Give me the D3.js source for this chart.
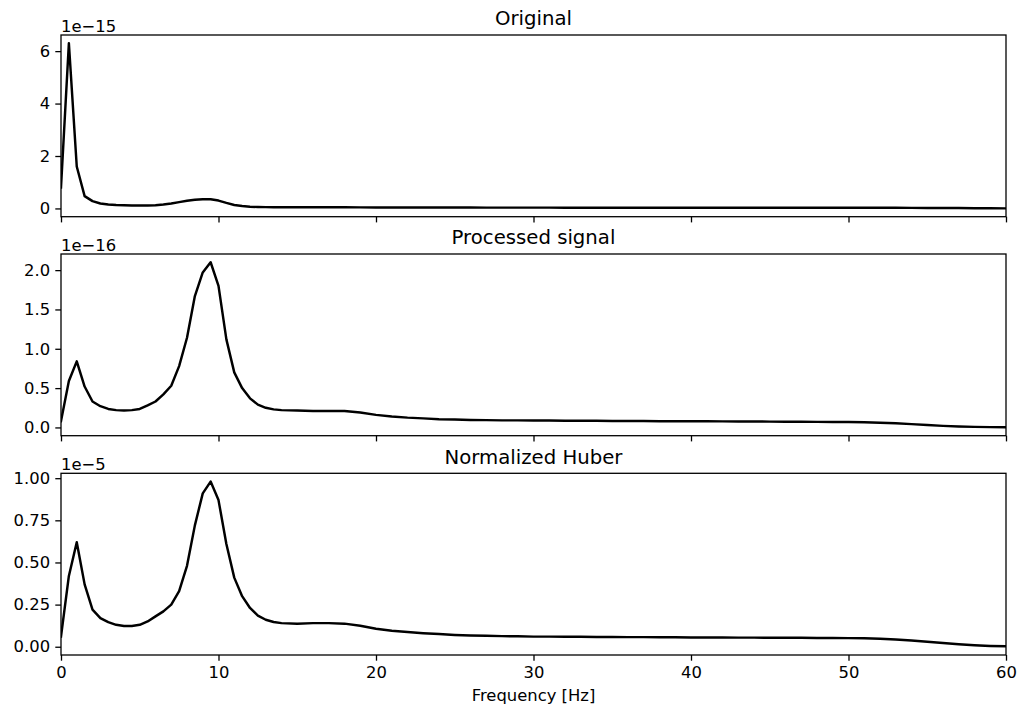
<!DOCTYPE html>
<html><head><meta charset="utf-8">
<script src="https://cdn.jsdelivr.net/npm/d3@7"></script>
<style>body{margin:0;background:#fff}svg{display:block}text{font-family:"DejaVu Sans",sans-serif;fill:#000}</style>
</head><body>
<svg id="c" width="1021" height="711"></svg>
<script>
const freqs = [0,0.5,1,1.5,2,2.5,3,3.5,4,4.5,5,5.5,6,6.5,7,7.5,8,8.5,9,9.5,10,10.5,11,11.5,12,12.5,13,13.5,14,
  15,16,17,18,19,20,21,22,23,24,25,26,27,28,29,30,31,32,33,34,35,36,37,38,39,40,41,42,43,44,45,46,47,48,49,50,51,52,53,54,55,56,57,58,59,60];
const titles = ["Original","Processed signal","Normalized Huber"];
const offsetLabels = ["1e\u221215","1e\u221216","1e\u22125"];
const originalVals = [0.8,6.3,1.6,0.47,0.28,0.19,0.15,0.13,0.12,0.11,0.11,0.11,0.12,0.15,0.19,0.24,0.29,0.33,0.35,0.35,0.30,0.21,0.13,0.09,0.065,0.055,0.05,0.047,0.045,
  0.043,0.042,0.042,0.042,0.04,0.038,0.036,0.035,0.034,0.033,0.032,0.032,0.031,0.031,0.031,0.031,0.031,0.030,0.030,0.030,0.030,0.030,0.030,0.030,0.030,0.029,0.029,0.029,0.029,0.029,0.029,0.029,0.028,0.028,0.028,0.028,0.027,0.026,0.024,0.022,0.02,0.017,0.013,0.008,0.004,0.002];
const processedVals = [0.08,0.59,0.84,0.52,0.33,0.27,0.235,0.22,0.215,0.22,0.235,0.28,0.33,0.42,0.53,0.78,1.14,1.67,1.97,2.10,1.80,1.12,0.70,0.50,0.37,0.29,0.25,0.23,0.22,
  0.215,0.21,0.21,0.21,0.19,0.16,0.14,0.125,0.115,0.105,0.10,0.095,0.093,0.09,0.09,0.088,0.087,0.086,0.085,0.084,0.083,0.082,0.081,0.080,0.080,0.079,0.078,0.077,0.076,0.075,0.074,0.073,0.072,0.071,0.070,0.069,0.066,0.06,0.052,0.042,0.03,0.02,0.012,0.007,0.004,0.003];
const huberVals = [0.06,0.42,0.62,0.37,0.22,0.17,0.146,0.13,0.123,0.123,0.13,0.15,0.18,0.21,0.25,0.33,0.48,0.72,0.91,0.98,0.87,0.61,0.41,0.30,0.23,0.185,0.16,0.147,0.14,
  0.137,0.14,0.14,0.137,0.125,0.107,0.095,0.087,0.08,0.075,0.07,0.067,0.065,0.063,0.062,0.06,0.06,0.059,0.059,0.058,0.058,0.057,0.057,0.056,0.056,0.055,0.055,0.055,0.054,0.054,0.053,0.053,0.053,0.052,0.052,0.051,0.05,0.048,0.043,0.037,0.03,0.022,0.015,0.009,0.005,0.003];
const yTicks = [[0,2,4,6],[0,0.5,1.0,1.5,2.0],[0,0.25,0.5,0.75,1.0]];
const yTickFmt = [d3.format("d"), d3.format(".1f"), d3.format(".2f")];
const xTicks = [0,10,20,30,40,50,60];
const series = [originalVals, processedVals, huberVals];

const svg = d3.select("#c");
const left = 61, right = 1006;
const tops = [35, 254, 473.3], h = 181.7;
const x = d3.scaleLinear().domain([0,60]).range([left,right]);
const tickFont = "16.4px", titleFont = "19.7px", tickLen = 5.7, tickPad = 5.2;

series.forEach((vals, i) => {
  const top = tops[i], bottom = top + h;
  const mx = d3.max(vals), mn = Math.min(0, d3.min(vals));
  const pad = (mx - mn) * 0.05;
  const y = d3.scaleLinear().domain([mn - pad, mx + pad]).range([bottom, top]);
  const g = svg.append("g");
  const ya = g.append("g").attr("transform",`translate(${left},0)`)
    .call(d3.axisLeft(y).tickValues(yTicks[i]).tickFormat(yTickFmt[i]).tickSize(tickLen).tickPadding(tickPad));
  ya.select(".domain").remove();
  ya.selectAll("line").attr("stroke","#000").attr("stroke-width",1.3);
  ya.selectAll("text").style("font-size",tickFont).style("font-family","DejaVu Sans").attr("fill","#000");
  const xa = g.append("g").attr("transform",`translate(0,${bottom})`)
    .call(d3.axisBottom(x).tickValues(xTicks).tickFormat(i===2 ? d3.format("d") : () => "").tickSize(tickLen).tickPadding(tickPad));
  xa.select(".domain").remove();
  xa.selectAll("line").attr("stroke","#000").attr("stroke-width",1.3);
  xa.selectAll("text").style("font-size",tickFont).style("font-family","DejaVu Sans").attr("fill","#000");
  const clipId = "clip"+i;
  svg.append("clipPath").attr("id",clipId).append("rect").attr("x",left).attr("y",top).attr("width",right-left).attr("height",h);
  g.append("path").datum(vals.map((v,k)=>[freqs[k],v]))
    .attr("clip-path",`url(#${clipId})`)
    .attr("fill","none").attr("stroke","#000").attr("stroke-width",2.46).attr("stroke-linejoin","round").attr("stroke-linecap","square")
    .attr("d", d3.line().x(d=>x(d[0])).y(d=>y(d[1])));
  g.append("rect").attr("x",left).attr("y",top).attr("width",right-left).attr("height",h)
    .attr("fill","none").attr("stroke","#000").attr("stroke-width",1.3);
  g.append("text").attr("x",(left+right)/2).attr("y",top-9.8).attr("text-anchor","middle")
    .style("font-size",titleFont).text(titles[i]);
  g.append("text").attr("x",left).attr("y",top-3.5).attr("text-anchor","start")
    .style("font-size",tickFont).text(offsetLabels[i]);
});
svg.append("text").attr("x",(left+right)/2).attr("y",701).attr("text-anchor","middle")
  .style("font-size",tickFont).text("Frequency [Hz]");
</script>
</body></html>
